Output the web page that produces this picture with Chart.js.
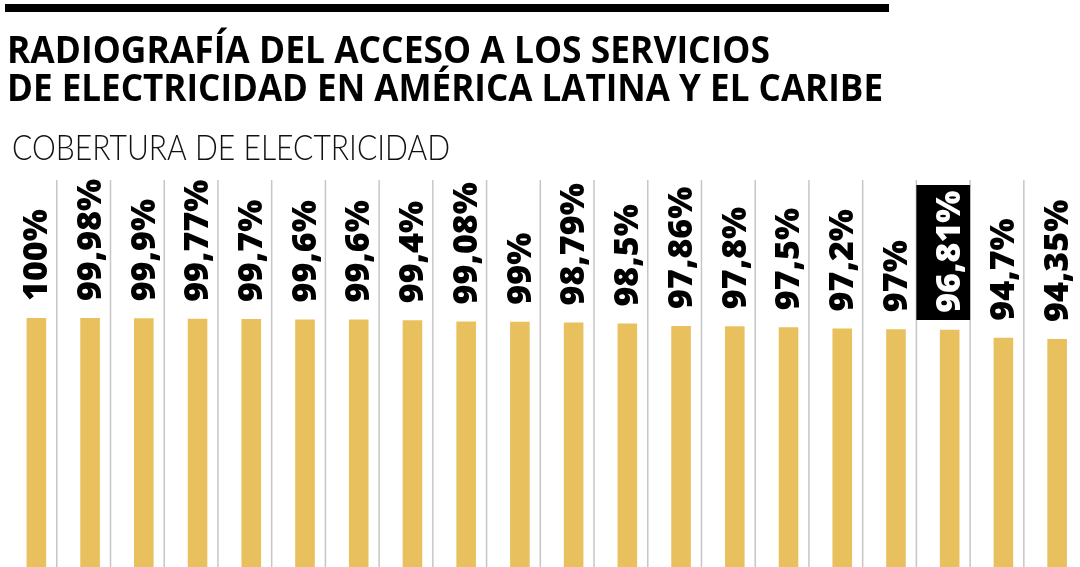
<!DOCTYPE html>
<html>
<head>
<meta charset="utf-8">
<script src="https://cdn.jsdelivr.net/npm/chart.js@4.4.1/dist/chart.umd.min.js"></script>
<style>
	html, body { margin: 0; padding: 0; background: #fff; overflow: hidden; }
	#wrap { position: relative; width: 1084px; height: 567px; }
</style>
</head>
<body>
<div id="wrap"><canvas id="grafico" width="1084" height="567"></canvas></div>
<script>
// datos
const posiciones = ["1", "2", "3", "4", "5", "6", "7", "8", "9", "10",
	"11", "12", "13", "14", "15", "16", "17", "18", "19", "20"];
const cobertura = [100, 99.98, 99.9, 99.77, 99.7, 99.6, 99.6, 99.4, 99.08, 99,
	98.79, 98.5, 97.86, 97.8, 97.5, 97.2, 97, 96.81, 94.7, 94.35];
const etiquetas = ["100%", "99,98%", "99,9%", "99,77%", "99,7%", "99,6%", "99,6%", "99,4%", "99,08%", "99%",
	"98,79%", "98,5%", "97,86%", "97,8%", "97,5%", "97,2%", "97%", "96,81%", "94,7%", "94,35%"];
const destacado = 17;

const titulo1 = "RADIOGRAFÍA DEL ACCESO A LOS SERVICIOS";
const titulo2 = "DE ELECTRICIDAD EN AMÉRICA LATINA Y EL CARIBE";
const subtitulo = "COBERTURA DE ELECTRICIDAD";

const AMARILLO = "#e8c15e";

// dibuja texto estirado/comprimido al ancho deseado
function textoAjustado(ctx, texto, x, y, ancho) {
	const w = ctx.measureText(texto).width;
	ctx.save();
	ctx.translate(x, y);
	ctx.scale(ancho / w, 1);
	ctx.fillText(texto, 0, 0);
	ctx.restore();
}

const encabezado = {
	id: "encabezado",
	beforeDraw(chart) {
		const ctx = chart.ctx;
		ctx.save();
		ctx.fillStyle = "#000";
		ctx.fillRect(5, 4, 884, 8);
		ctx.textBaseline = "alphabetic";
		ctx.textAlign = "left";
		ctx.font = "700 38px 'Open Sans'";
		textoAjustado(ctx, titulo1, 7, 63, 763);
		textoAjustado(ctx, titulo2, 7, 100.5, 876);
		ctx.font = "300 35px Lato";
		ctx.fillStyle = "#111";
		textoAjustado(ctx, subtitulo, 12, 160, 438);
		ctx.restore();
	},
};

function separador(chart, i) {
	const x = chart.scales.x;
	const paso = x.getPixelForValue(1) - x.getPixelForValue(0);
	return x.getPixelForValue(i) + paso * 0.38;
}

const columnas = {
	id: "columnas",
	beforeDatasetsDraw(chart) {
		const ctx = chart.ctx;
		const area = chart.chartArea;
		ctx.save();
		ctx.strokeStyle = "#c6c6c6";
		ctx.lineWidth = 1.5;
		for (let i = 0; i < cobertura.length - 1; i++) {
			const sx = separador(chart, i);
			ctx.beginPath();
			ctx.moveTo(sx, 180);
			ctx.lineTo(sx, area.bottom);
			ctx.stroke();
		}
		// caja negra del valor destacado
		const x0 = separador(chart, destacado - 1);
		const x1 = separador(chart, destacado);
		ctx.fillStyle = "#000";
		ctx.fillRect(x0, 185, x1 - x0, area.top + 2 - 185);
		ctx.restore();
	},
	afterDatasetsDraw(chart) {
		const ctx = chart.ctx;
		const meta = chart.getDatasetMeta(0);
		const size = 34;
		ctx.save();
		ctx.font = "800 " + size + "px 'Open Sans'";
		ctx.textAlign = "left";
		ctx.textBaseline = "alphabetic";
		meta.data.forEach((bar, i) => {
			ctx.save();
			ctx.translate(bar.x - 1.5, bar.y - 17);
			ctx.rotate(-Math.PI / 2);
			ctx.fillStyle = i === destacado ? "#fff" : "#000";
			ctx.fillText(etiquetas[i], 0, size * 0.36);
			ctx.restore();
		});
		ctx.restore();
	},
};

new Chart(document.getElementById("grafico"), {
	type: "bar",
	data: {
		labels: posiciones,
		datasets: [
			{
				label: "Cobertura de electricidad",
				data: cobertura,
				backgroundColor: AMARILLO,
				borderWidth: 0,
				barPercentage: 0.365,
				categoryPercentage: 1,
			},
		],
	},
	options: {
		responsive: false,
		animation: false,
		layout: { padding: { top: 318, left: 9.5, right: 0, bottom: 0 } },
		plugins: {
			legend: { display: false },
			tooltip: { enabled: false },
			title: { display: false },
		},
		scales: {
			x: { display: false, offset: true },
			y: { display: false, min: 33, max: 100 },
		},
	},
	plugins: [encabezado, columnas],
});
</script>
</body>
</html>
